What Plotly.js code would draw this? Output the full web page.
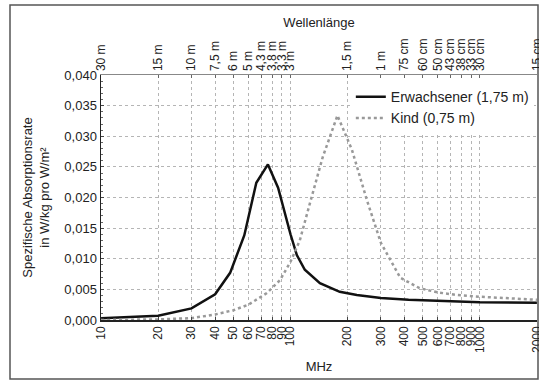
<!DOCTYPE html>
<html>
<head>
<meta charset="utf-8">
<script src="https://cdn.plot.ly/plotly-3.0.1.min.js"></script>
<style>html,body{margin:0;padding:0;background:#fff;}#chart{width:539px;height:381px;}</style>
</head>
<body>
<div id="chart"></div>
<script>
// Adult (1.75 m) – SAR vs frequency
const adultFreq = [10, 20, 30, 40, 48, 57, 66, 76, 86, 100, 108, 119, 143, 182, 224, 300, 420, 740, 1000, 2000];
const adultSar  = [0.0003, 0.0007, 0.0019, 0.0042, 0.0077, 0.0138, 0.0224, 0.0254, 0.0216, 0.0140, 0.0106, 0.0082, 0.0060, 0.0046, 0.0041, 0.0036, 0.0033, 0.0030, 0.0029, 0.0028];
// Child (0.75 m)
const childFreq = [10, 20, 30, 40, 50, 60, 75, 88, 100, 112, 127, 148, 177, 211, 253, 300, 380, 480, 600, 750, 1000, 2000];
const childSar  = [0.0000, 0.0001, 0.0003, 0.0009, 0.0016, 0.0025, 0.0044, 0.0065, 0.0095, 0.0130, 0.0192, 0.0266, 0.0334, 0.0278, 0.0196, 0.0126, 0.0069, 0.0052, 0.0045, 0.0041, 0.0038, 0.0033];

const seriesNames = ['Erwachsener (1,75 m)', 'Kind (0,75 m)'];

const freqTicks = [10,20,30,40,50,60,70,80,90,100,200,300,400,500,600,700,800,900,1000,2000];
const freqLabels = ['10','20','30','40','50','60','70','80','90','100','200','300','400','500','600','700','800','900','1000','2000'];
const waveLabels = ['30 m','15 m','10 m','7,5 m','6 m','5 m','4,3 m','3,8 m','3,3 m','3 m','1,5 m','1 m','75 cm','60 cm','50 cm','43 cm','38 cm','33 cm','30 cm','15 cm'];
const yTicks = [0,0.005,0.010,0.015,0.020,0.025,0.030,0.035,0.040];

const font = 'Liberation Sans, Arial, sans-serif';
const xRange = [0.9995, 3.3015];

const traces = [
  {x: adultFreq, y: adultSar, name: seriesNames[0], mode: 'lines', type: 'scatter',
   line: {color: '#111', width: 2.5}},
  {x: childFreq, y: childSar, name: seriesNames[1], mode: 'lines', type: 'scatter',
   line: {color: '#999', width: 2.5, dash: 'dot'}},
  {x: freqTicks, y: freqTicks.map(()=>null), xaxis: 'x2', mode: 'lines', showlegend: false, hoverinfo: 'skip'}
];

const layout = {
  width: 539, height: 381,
  margin: {l: 101, r: 2, t: 75, b: 61},
  paper_bgcolor: '#fff', plot_bgcolor: '#fff',
  font: {family: font, color: '#222', size: 12},
  separators: ',.',
  showlegend: true,
  legend: {x: 0.573, y: 0.975, xanchor: 'left', yanchor: 'top', bgcolor: '#fff',
           font: {size: 14, family: font, color: '#222'}, tracegroupgap: 0, itemwidth: 30},
  xaxis: {
    type: 'log', range: xRange,
    tickvals: freqTicks, ticktext: freqLabels, tickangle: -90,
    tickfont: {size: 12}, ticklabeloverflow: 'allow',
    showgrid: true, gridcolor: '#b5b5b5', griddash: 'dot', gridwidth: 1,
    showline: true, linecolor: '#222', linewidth: 1.5,
    ticks: 'inside', ticklen: 3, tickcolor: '#444',
    zeroline: false,
    title: {text: 'MHz', font: {size: 13}, standoff: 10}
  },
  xaxis2: {
    type: 'log', range: xRange, overlaying: 'x', side: 'top',
    tickvals: freqTicks, ticktext: waveLabels, tickangle: -90,
    tickfont: {size: 12}, ticklabeloverflow: 'allow',
    showgrid: false, showline: true, linecolor: '#888', linewidth: 1.5,
    ticks: 'inside', ticklen: 3, tickcolor: '#666',
    title: {text: 'Wellenlänge', font: {size: 13}, standoff: 8}
  },
  yaxis: {
    range: [0, 0.040], tickvals: yTicks, tickformat: '.3f',
    tickfont: {size: 13},
    showgrid: true, gridcolor: '#b5b5b5', griddash: 'dot', gridwidth: 1,
    showline: true, linecolor: '#222', linewidth: 1.5,
    ticks: 'inside', ticklen: 3, tickcolor: '#444',
    minor: {dtick: 0.001, ticks: 'inside', ticklen: 2, tickcolor: '#666', showgrid: false},
    zeroline: false,
    title: {text: 'Spezifische Absorptionsrate<br>in W/kg pro W/m²', font: {size: 13}, standoff: 12}
  },
  shapes: [
    {type: 'rect', xref: 'paper', yref: 'paper',
     x0: (10-101)/436, x1: (538-101)/436, y0: (320-379)/245, y1: (320-5)/245,
     line: {color: '#555', width: 1.5}, fillcolor: 'rgba(0,0,0,0)', layer: 'below'}
  ]
};

Plotly.newPlot('chart', traces, layout, {staticPlot: true, displayModeBar: false});
</script>
</body>
</html>
